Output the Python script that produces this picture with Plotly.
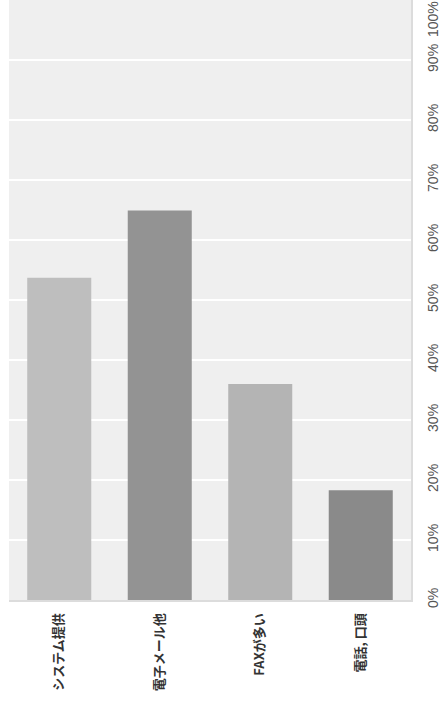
import plotly.graph_objects as go

# Share of responses by contact method (percent)
categories = ["システム提供", "電子メール他", "FAXが多い", "電話, 口頭"]
shares = [53.7, 64.9, 36.0, 18.3]
bar_colors = ["#bebebe", "#939393", "#b4b4b4", "#8a8a8a"]
tick_values = [0, 10, 20, 30, 40, 50, 60, 70, 80, 90]
tick_labels = [f"{v}%" for v in tick_values]

fig = go.Figure(
    go.Bar(
        x=categories,
        y=shares,
        marker=dict(color=bar_colors, line=dict(width=0)),
        hoverinfo="x+y",
    )
)

fig.update_layout(
    width=441,
    height=702,
    margin=dict(l=9, r=30, t=0, b=102),
    paper_bgcolor="#ffffff",
    plot_bgcolor="#efefef",
    bargap=0.363,
    showlegend=False,
)

fig.update_xaxes(
    type="category",
    tickangle=-90,
    ticks="",
    showgrid=False,
    showline=True,
    linecolor="#dcdcdc",
    linewidth=2,
    ticklabelstandoff=6,
    tickfont=dict(family="Noto Sans CJK JP", size=13, color="#333333", weight="bold"),
)

fig.update_yaxes(
    side="right",
    range=[0, 100],
    tickvals=tick_values,
    ticktext=tick_labels,
    tickangle=-90,
    ticks="",
    showgrid=True,
    gridcolor="#ffffff",
    gridwidth=1.5,
    zeroline=False,
    showline=True,
    linecolor="#dcdcdc",
    linewidth=2,
    ticklabelstandoff=8,
    tickfont=dict(family="Liberation Sans, Arial, sans-serif", size=14, color="#555555"),
)

# Top tick label kept inside the page
fig.add_annotation(
    x=1, xref="paper", xanchor="left", xshift=12,
    y=100, yref="y", yanchor="top", yshift=1,
    text="100%", textangle=-90, showarrow=False,
    font=dict(family="Liberation Sans, Arial, sans-serif", size=14, color="#555555"),
)

fig.write_html("out.html")
